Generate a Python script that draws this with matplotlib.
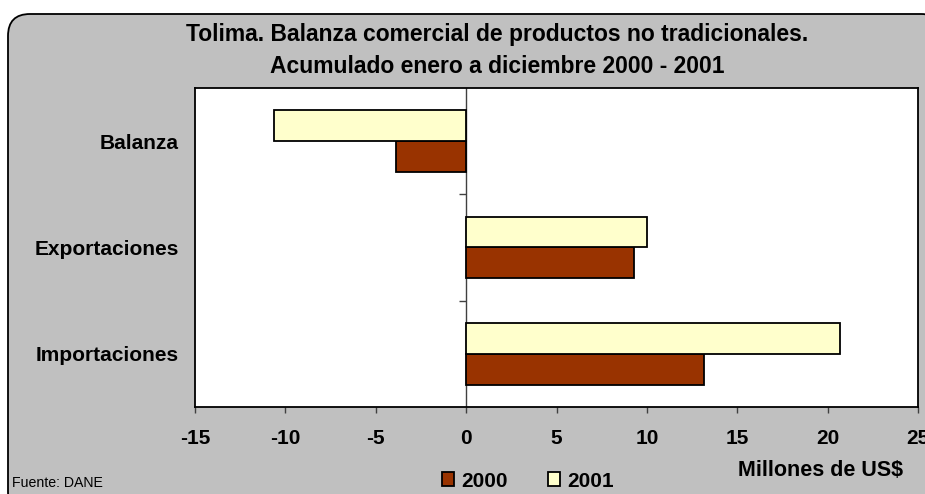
import matplotlib
matplotlib.use("Agg")
import matplotlib.pyplot as plt
import numpy as np
from matplotlib.patches import FancyBboxPatch
from matplotlib.transforms import IdentityTransform

plt.rcParams['font.family'] = ['Liberation Sans', 'DejaVu Sans']

categories = ["Importaciones", "Exportaciones", "Balanza"]
series_names = ["2000", "2001"]
values_2000 = [13.16, 9.29, -3.87]
values_2001 = [20.68, 10.03, -10.65]
x_ticks = [-15, -10, -5, 0, 5, 10, 15, 20, 25]

title = "Tolima. Balanza comercial de productos no tradicionales.\nAcumulado enero a diciembre 2000 - 2001"

fig = plt.figure(figsize=(9.25, 4.94), dpi=100)
fig.patch.set_facecolor("white")

# rounded gray frame (pixel coordinates)
frame = FancyBboxPatch((8, -20), 935, 480 + 20, boxstyle="round,pad=0,rounding_size=22",
                       transform=IdentityTransform(), facecolor="#C0C0C0",
                       edgecolor="black", linewidth=1.3, zorder=-5)
fig.patches.append(frame)

ax = fig.add_axes([195/925, 1-407/494, (918-195)/925, (407-88)/494])
ax.set_facecolor("white")
ax.set_zorder(1)

y = np.arange(len(categories))
h = 0.29
b1 = ax.barh(y - h/2, values_2000, height=h, color="#993300", edgecolor="black", linewidth=1.3, label=series_names[0], zorder=3)
b2 = ax.barh(y + h/2, values_2001, height=h, color="#FFFFCC", edgecolor="black", linewidth=1.3, label=series_names[1], zorder=3)

ax.set_xlim(x_ticks[0], x_ticks[-1])
ax.set_ylim(-0.5, len(categories) - 0.5)
ax.set_xticks(x_ticks)
ax.set_xticklabels([str(t) for t in x_ticks], fontsize=15, fontweight="bold")
ax.tick_params(axis="x", direction="out", length=4, width=1, pad=12, color="#404040")
ax.set_yticks(y)
ax.set_yticklabels(categories, fontsize=15, fontweight="bold")
ax.tick_params(axis="y", length=0, pad=11.5)
for s in ax.spines.values():
    s.set_color("black")
    s.set_linewidth(1.3)

# zero line with category separators
ax.axvline(0, color="#404040", linewidth=1, zorder=2)
zero_frac = (0 - x_ticks[0]) / (x_ticks[-1] - x_ticks[0])
sec = ax.secondary_yaxis(zero_frac)
sec.set_yticks(y[:-1] + 0.5)
sec.set_yticklabels([])
sec.tick_params(axis="y", direction="out", length=5, width=1, color="#404040")
sec.spines["left"].set_visible(False)

fig.text(497/925, 1 - 50.5/494, title, ha="center", va="center", fontsize=16.5,
         fontweight="bold", linespacing=1.5, zorder=5)

fig.text(12/925, 1 - 483/494, "Fuente: DANE", ha="left", va="center", fontsize=10.2)
fig.text(821/925, 1 - 471/494, "Millones de US$", ha="center", va="center", fontsize=15.5, fontweight="bold")

fig.legend(handles=[b1, b2], labels=series_names, loc="center", ncol=2,
           bbox_to_anchor=(528/925, 1 - 481/494), frameon=False,
           prop={"weight": "bold", "size": 15}, handlelength=0.61, handleheight=0.61,
           handletextpad=0.35, columnspacing=1.9)

fig.savefig("out.png", dpi=100, facecolor=fig.get_facecolor())
